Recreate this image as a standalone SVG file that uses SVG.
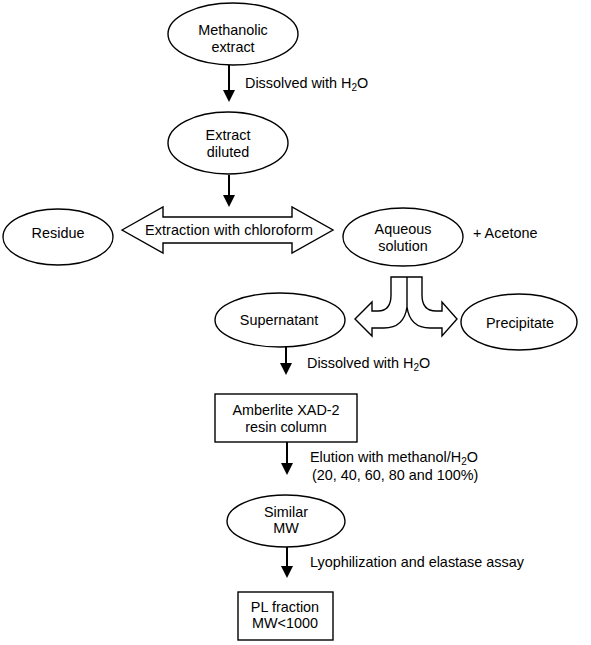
<svg xmlns="http://www.w3.org/2000/svg" width="591" height="645" viewBox="0 0 591 645">
<style>
text{font-family:"Liberation Sans",Arial,sans-serif;font-size:14.4px;fill:#000}
.c{text-anchor:middle}
.n{fill:#fff;stroke:#000;stroke-width:1.4}
.l{stroke:#000;stroke-width:2;fill:none}
.sub{font-size:10px}
</style>
<rect width="591" height="645" fill="#fff"/>
<g id="connectors">
<line class="l" x1="229" y1="65" x2="229" y2="91"/><path d="M223 90 L235 90 L229 102 Z"/>
<line class="l" x1="229" y1="175" x2="229" y2="196"/><path d="M223 195 L235 195 L229 207 Z"/>
<line class="l" x1="286" y1="347" x2="286" y2="364"/><path d="M280 363 L292 363 L286 375 Z"/>
<line class="l" x1="287" y1="442" x2="287" y2="464"/><path d="M281 463 L293 463 L287 475 Z"/>
<line class="l" x1="287" y1="547" x2="287" y2="567"/><path d="M281 566 L293 566 L287 578 Z"/>
<g id="double-arrow">
<polygon class="n" points="122,230 163,207 163,217 292,217 292,207 333,230 292,253 292,243 163,243 163,253"/>
<text class="c" x="229" y="235" textLength="168" lengthAdjust="spacing">Extraction with chloroform</text>
</g>
<g id="split-arrow">
<path class="n" d="M391 277 L422 277 L422 295 Q422 311 436 311 L442 311 L442 302 L457 319 L442 336 L442 328 L430 328 Q410 328 407 307 Q404 328 384 328 L372 328 L372 336 L355 319 L372 302 L372 311 L378 311 Q391 311 391 295 Z"/>
<line x1="407" y1="277" x2="407" y2="307" stroke="#000" stroke-width="1.4"/>
</g>
<text x="245" y="88">Dissolved with H<tspan class="sub" dy="3">2</tspan><tspan dy="-3">O</tspan></text>
<text x="307" y="368">Dissolved with H<tspan class="sub" dy="3">2</tspan><tspan dy="-3">O</tspan></text>
<text x="310" y="462">Elution with methanol/H<tspan class="sub" dy="3">2</tspan><tspan dy="-3">O</tspan></text>
<text x="312" y="480">(20, 40, 60, 80 and 100%)</text>
<text x="310" y="567">Lyophilization and elastase assay</text>
<text x="473" y="238">+ Acetone</text>
</g>
<g id="methanolic-extract">
<ellipse class="n" cx="233" cy="34" rx="65" ry="31"/>
<text class="c" x="233" y="35">Methanolic</text>
<text class="c" x="233" y="52">extract</text>
</g>
<g id="extract-diluted">
<ellipse class="n" cx="228" cy="143" rx="60" ry="31"/>
<text class="c" x="228" y="140">Extract</text>
<text class="c" x="228" y="157">diluted</text>
</g>
<g id="residue">
<ellipse class="n" cx="58" cy="237" rx="55" ry="28"/>
<text class="c" x="58" y="238">Residue</text>
</g>
<g id="aqueous-solution">
<ellipse class="n" cx="403" cy="237" rx="60" ry="29"/>
<text class="c" x="403" y="234">Aqueous</text>
<text class="c" x="403" y="251">solution</text>
</g>
<g id="supernatant">
<ellipse class="n" cx="280" cy="320" rx="65" ry="27"/>
<text class="c" x="279" y="325">Supernatant</text>
</g>
<g id="precipitate">
<ellipse class="n" cx="519" cy="322" rx="58" ry="28"/>
<text class="c" x="520" y="328">Precipitate</text>
</g>
<g id="amberlite">
<rect class="n" x="215" y="394" width="142" height="48"/>
<text class="c" x="286" y="415">Amberlite XAD-2</text>
<text class="c" x="286" y="432">resin column</text>
</g>
<g id="similar-mw">
<ellipse class="n" cx="286" cy="521" rx="59" ry="26"/>
<text class="c" x="286" y="517">Similar</text>
<text class="c" x="286" y="533">MW</text>
</g>
<g id="pl-fraction">
<rect class="n" x="238" y="592" width="95" height="48"/>
<text class="c" x="285" y="612">PL fraction</text>
<text class="c" x="285" y="628">MW&lt;1000</text>
</g>
</svg>
